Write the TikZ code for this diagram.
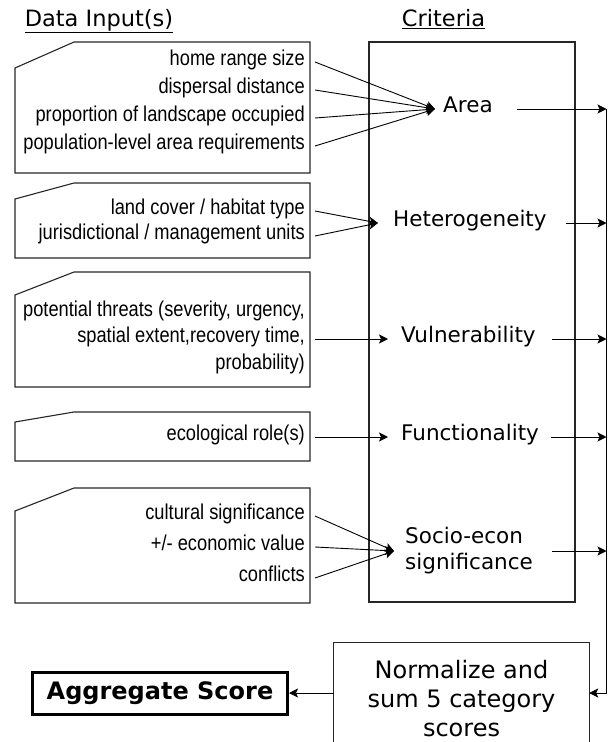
\documentclass[tikz,border=0pt]{standalone}
\usepackage{fontspec}
\usetikzlibrary{arrows.meta}
\newfontfamily\dejavu{DejaVu Sans}
\newfontfamily\narrowsans[FakeStretch=0.85]{Liberation Sans}
\begin{document}
\begin{tikzpicture}[x=1pt,y=-1pt,
  inbox/.style={draw=black!85, line width=1.1pt},
  intext/.style={anchor=east, inner sep=0pt, text height=0.72em, text depth=0pt,
    font=\narrowsans\fontsize{21.5}{25}\selectfont},
  crit/.style={anchor=west, inner sep=0pt, text height=0.73em, text depth=0pt,
    font=\dejavu\fontsize{21.5}{26}\selectfont},
  head/.style={anchor=base, inner sep=0pt, font=\dejavu\fontsize{22.5}{26}\selectfont},
  arr/.style={-{Stealth[length=9pt,width=9pt,inset=2pt]}, line width=0.9pt},
  plain/.style={line width=0.9pt}
]
\useasboundingbox (0,0) rectangle (608,742);

% headings
\node[head] (hdata) at (99,26) {\underline{Data Input(s)}};
\node[head] (hcrit) at (443.5,26) {\underline{Criteria}};

% criteria box
\node[draw=black!85, line width=1.1pt, minimum width=206pt, minimum height=560pt, inner sep=0pt] (critbox) at (472,322) {};

% input boxes
\draw[inbox] (15,68) -- (74,42) -- (310,42) -- (310,173) -- (15,173) -- cycle;
\draw[inbox] (15,199) -- (74,183) -- (310,183) -- (310,258) -- (15,258) -- cycle;
\draw[inbox] (15,295) -- (74,272) -- (310,272) -- (310,387) -- (15,387) -- cycle;
\draw[inbox] (15,422) -- (74,412) -- (310,412) -- (310,461) -- (15,461) -- cycle;
\draw[inbox] (15,511) -- (74,488) -- (310,488) -- (310,603) -- (15,603) -- cycle;

% input texts
\node[intext] (t11) at (305,62) {home range size};
\node[intext] (t12) at (305,90) {dispersal distance};
\node[intext] (t13) at (305,118) {proportion of landscape occupied};
\node[intext] (t14) at (305,146) {population-level area requirements};
\node[intext] (t21) at (305,211) {land cover / habitat type};
\node[intext] (t22) at (305,236) {jurisdictional / management units};
\node[intext] (t31) at (305,313) {potential threats (severity, urgency,};
\node[intext] (t32) at (305,339) {spatial extent,recovery time,};
\node[intext] (t33) at (305,366) {probability)};
\node[intext] (t41) at (305,437) {ecological role(s)};
\node[intext] (t51) at (305,516) {cultural significance};
\node[intext] (t52) at (305,547) {+/- economic value};
\node[intext] (t53) at (305,578) {conflicts};

% criteria
\node[crit] (area) at (443,109) {Area};
\node[crit] (het) at (393,223) {Heterogeneity};
\node[crit] (vul) at (401,339) {Vulnerability};
\node[crit] (fun) at (401,437) {Functionality};
\node[anchor=west, inner sep=0pt, align=left, font=\dejavu\fontsize{21.5}{26}\selectfont] (soc) at (405,551) {Socio-econ\\significance};

% arrows inputs -> criteria
\foreach \t in {t11,t12,t13,t14}
  \draw[arr] ([xshift=10pt]\t.east) -- ([xshift=-8pt]area.west);
\foreach \t in {t21,t22}
  \draw[arr] ([xshift=10pt]\t.east) -- ([xshift=-15pt]het.west);
\draw[arr] ([xshift=10pt]t32.east) -- ([xshift=-13pt]vul.west);
\draw[arr] ([xshift=10pt]t41.east) -- ([xshift=-13pt]fun.west);
\foreach \t in {t51,t52,t53}
  \draw[arr] ([xshift=10pt]\t.east) -- ([xshift=-11pt]soc.west);

% right collector
\coordinate (vtop) at (606.5,109);
\coordinate (vbot) at (606.5,693);
\draw[plain] (vtop) -- (vbot);
\draw[arr] ([xshift=24pt]area.east) -- (area.east -| vtop);
\draw[arr] ([xshift=19pt]het.east) -- (het.east -| vtop);
\draw[arr] ([xshift=16pt]vul.east) -- (vul.east -| vtop);
\draw[arr] ([xshift=12pt]fun.east) -- (fun.east -| vtop);
\draw[arr] ([xshift=19pt]soc.east) -- (soc.east -| vtop);

% normalize box (cut by the bottom edge)
\node[minimum width=255pt, minimum height=111pt, inner sep=0pt, align=center,
  font=\dejavu\fontsize{24}{29}\selectfont] (norm) at (461.5,698.5)
  {Normalize and\\sum 5 category\\scores};
\draw[line width=1.1pt, draw=black!85] (norm.south west) -- (norm.north west) -- (norm.north east) -- (norm.south east);

% aggregate
\node[draw, line width=3pt, minimum width=255pt, minimum height=42pt, inner sep=0pt,
  font=\dejavu\bfseries\fontsize{24}{28}\selectfont] (agg) at (160,693.5) {Aggregate Score};

\draw[arr] (vbot) -- (vbot -| norm.east);
\draw[arr] (vbot -| norm.west) -- (vbot -| agg.east);
\end{tikzpicture}
\end{document}
